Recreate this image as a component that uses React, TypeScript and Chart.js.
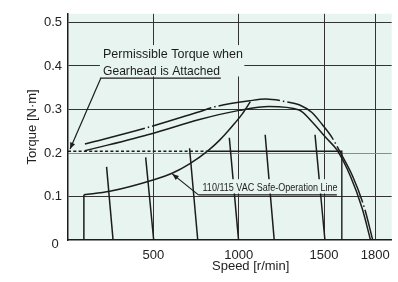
import React, { useEffect, useRef } from "react";
import { Chart, registerables } from "chart.js";

Chart.register(...registerables);

// ---- axes ----
const xMin = 0;
const xMax = 1896;
const yMin = 0;
const yMax = 0.52;
const xTickValues = [500, 1000, 1500, 1800];
const yTickValues = [0.1, 0.2, 0.3, 0.4, 0.5];

// ---- curves (speed r/min, torque N·m) ----
const upperSpeed = [99, 461, 770, 868, 1062, 1159, 1276, 1354, 1429, 1488, 1546, 1587, 1668, 1737, 1785];
const upperTorque = [0.2205, 0.258, 0.295, 0.307, 0.32, 0.324, 0.318, 0.311, 0.293, 0.266, 0.236, 0.207, 0.146, 0.073, 0];

const lowerSpeed = [99, 496, 770, 1003, 1178, 1354, 1429, 1509, 1575, 1655, 1723, 1772];
const lowerTorque = [0.205, 0.245, 0.277, 0.298, 0.307, 0.299, 0.272, 0.236, 0.207, 0.146, 0.073, 0];

const safeVertSpeed = [93, 93];
const safeVertTorque = [0, 0.104];
const safeSpeed = [93, 245, 498, 613, 712, 819, 887, 963, 1021, 1068];
const safeTorque = [0.104, 0.112, 0.138, 0.154, 0.175, 0.205, 0.229, 0.262, 0.29, 0.318];

const permSpeed = [0, 819];
const permTorque = [0.204, 0.204];
const ratedSpeed = [819, 1604, 1604];
const ratedTorque = [0.204, 0.204, 0];

const speedLineTopSpeed = [226, 455, 712, 945, 1155, 1447];
const speedLineTopTorque = [0.168, 0.19, 0.211, 0.235, 0.242, 0.242];
const speedLineBottomSpeed = [264, 502, 760, 999, 1208, 1505];

// ---- texts ----
const yTitle = "Torque [N·m]";
const xTitle = "Speed [r/min]";
const permText = ["Permissible Torque when", "Gearhead is Attached"];
const safeText = "110/115 VAC Safe-Operation Line";

const BG = "#e8f4ef";
const INK = "#1c1c1c";
const GRID = "#333333";
const FONT = '"Liberation Sans", Arial, Helvetica, sans-serif';

const zip = (xs: number[], ys: number[]) => xs.map((x, i) => ({ x, y: ys[i] }));

function arrow(ctx: CanvasRenderingContext2D, x0: number, y0: number, x1: number, y1: number) {
  ctx.beginPath();
  ctx.moveTo(x0, y0);
  ctx.lineTo(x1, y1);
  ctx.stroke();
  const a = Math.atan2(y1 - y0, x1 - x0);
  const L = 6.5,
    W = 2.6;
  ctx.beginPath();
  ctx.moveTo(x1, y1);
  ctx.lineTo(x1 - L * Math.cos(a) + W * Math.sin(a), y1 - L * Math.sin(a) - W * Math.cos(a));
  ctx.lineTo(x1 - L * Math.cos(a) - W * Math.sin(a), y1 - L * Math.sin(a) + W * Math.cos(a));
  ctx.closePath();
  ctx.fill();
}

const decorPlugin = {
  id: "decor",
  beforeDraw(chart: any) {
    const { ctx, chartArea } = chart;
    ctx.save();
    ctx.fillStyle = BG;
    ctx.fillRect(chartArea.left, chartArea.top, chartArea.right - chartArea.left, chartArea.bottom - chartArea.top);
    ctx.restore();
  },
  afterDatasetsDraw(chart: any) {
    const { ctx } = chart;
    const X = (v: number) => chart.scales.x.getPixelForValue(v);
    const Y = (v: number) => chart.scales.y.getPixelForValue(v);
    ctx.save();
    // permissible torque label
    ctx.fillStyle = BG;
    ctx.fillRect(X(187), Y(0.448), X(1033) - X(187), Y(0.376) - Y(0.448));
    ctx.fillStyle = INK;
    ctx.font = `13.5px ${FONT}`;
    ctx.textAlign = "left";
    ctx.textBaseline = "alphabetic";
    ctx.fillText(permText[0], X(205), Y(0.418), 140);
    ctx.fillText(permText[1], X(205), Y(0.38), 117);
    ctx.strokeStyle = INK;
    ctx.lineWidth = 1.2;
    ctx.beginPath();
    ctx.moveTo(X(187), Y(0.372));
    ctx.lineTo(X(895), Y(0.372));
    ctx.stroke();
    arrow(ctx, X(192), Y(0.372), X(12), Y(0.209));

    // safe-operation label
    ctx.fillStyle = BG;
    ctx.fillRect(X(776), Y(0.1397), X(1587) - X(776), Y(0.107) - Y(0.1397));
    ctx.fillStyle = INK;
    ctx.font = `11.6px ${FONT}`;
    ctx.fillText(safeText, X(788), Y(0.1124), 135);
    ctx.beginPath();
    ctx.moveTo(X(764), Y(0.1037));
    ctx.lineTo(X(1575), Y(0.1037));
    ctx.stroke();
    arrow(ctx, X(764), Y(0.1037), X(611), Y(0.152));
    ctx.restore();
  },
  afterDraw(chart: any) {
    const { ctx, chartArea } = chart;
    const X = (v: number) => chart.scales.x.getPixelForValue(v);
    ctx.save();
    ctx.fillStyle = "#222";
    ctx.font = `13px ${FONT}`;
    ctx.textAlign = "center";
    ctx.textBaseline = "alphabetic";
    ctx.fillText("0", chartArea.left - 13, chartArea.bottom + 8.3);
    ctx.fillText(xTitle, X(1070), chartArea.bottom + 30);
    ctx.restore();
  },
};

export default function App() {
  const ref = useRef<HTMLCanvasElement>(null);
  useEffect(() => {
    if (!ref.current) return;
    const lineDs = (data: any[], extra: any = {}) => ({
      data,
      borderColor: INK,
      borderWidth: 1.5,
      pointRadius: 0,
      fill: false,
      tension: 0,
      ...extra,
    });
    const datasets: any[] = [
      lineDs(zip(upperSpeed, upperTorque), { cubicInterpolationMode: "monotone", borderDash: [62, 3, 1.5, 3] }),
      lineDs(zip(lowerSpeed, lowerTorque), { cubicInterpolationMode: "monotone" }),
      lineDs(zip(safeVertSpeed, safeVertTorque)),
      lineDs(zip(safeSpeed, safeTorque), { cubicInterpolationMode: "monotone" }),
      lineDs(zip(permSpeed, permTorque), { borderDash: [3, 2.3], borderWidth: 1.4 }),
      lineDs(zip(ratedSpeed, ratedTorque), { borderWidth: 1.4 }),
      ...speedLineTopSpeed.map((s, i) =>
        lineDs([
          { x: s, y: speedLineTopTorque[i] },
          { x: speedLineBottomSpeed[i], y: 0 },
        ])
      ),
    ];
    const chart = new Chart(ref.current, {
      type: "line",
      data: { datasets },
      plugins: [decorPlugin],
      options: {
        animation: false,
        responsive: false,
        parsing: false,
        layout: { padding: { top: 2, right: 5, left: 0, bottom: 0 } },
        plugins: { legend: { display: false }, tooltip: { enabled: false } },
        scales: {
          x: {
            type: "linear",
            min: xMin,
            max: xMax,
            afterBuildTicks: (s: any) => {
              s.ticks = xTickValues.map((v) => ({ value: v }));
            },
            afterFit: (s: any) => {
              s.height = 42;
            },
            ticks: {
              callback: (v: any) => String(v),
              font: { size: 13, family: FONT },
              color: "#222",
              padding: 8,
              maxRotation: 0,
              autoSkip: false,
            },
            grid: { color: GRID, lineWidth: 1, drawTicks: false },
            border: { display: true, color: INK, width: 1.5 },
          },
          y: {
            type: "linear",
            min: yMin,
            max: yMax,
            afterBuildTicks: (s: any) => {
              s.ticks = yTickValues.map((v) => ({ value: v }));
            },
            afterFit: (s: any) => {
              s.width = 68;
            },
            ticks: {
              callback: (v: any) => Number(v).toFixed(1),
              font: { size: 13, family: FONT },
              color: "#222",
              padding: 6,
              autoSkip: false,
            },
            grid: {
              color: (c: any) => (c.tick && Math.abs(c.tick.value - 0.2) < 1e-6 ? "#8c8c8c" : GRID),
              lineWidth: 1,
              drawTicks: false,
            },
            border: { display: true, color: INK, width: 1.5 },
            title: {
              display: true,
              text: yTitle,
              font: { size: 13, family: FONT },
              color: "#222",
              padding: { top: 25, bottom: 0 },
            },
          },
        },
      },
    } as any);
    return () => chart.destroy();
  }, []);
  return (
    <div style={{ position: "absolute", left: 0, top: 0, width: 398, height: 282 }}>
      <canvas ref={ref} width={398} height={282} style={{ width: 398, height: 282, display: "block" }} />
    </div>
  );
}
